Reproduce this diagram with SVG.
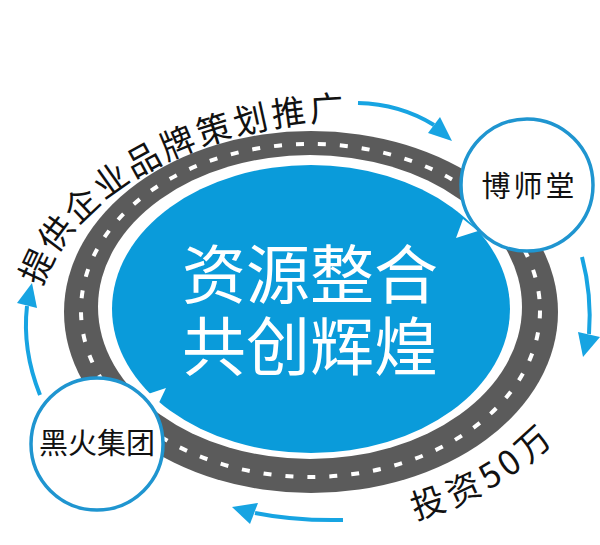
<svg xmlns="http://www.w3.org/2000/svg" width="600" height="545" viewBox="0 0 600 545">
<style>
.cjk{font-family:"Noto Sans CJK SC","Noto Sans",sans-serif;}
.arr{fill:none;stroke:#17a4e2;stroke-width:4;stroke-linecap:butt;}
.head{fill:#17a4e2;}
.node{fill:#fff;stroke:#1f95d0;stroke-width:3.5;}
.lbl{fill:#111;font-size:29px;text-anchor:middle;dominant-baseline:central;}
.arc{fill:#111;font-size:34px;dominant-baseline:central;}
</style>
<defs>
<path id="topArc" d="M20,330 A340,225 0 0 1 360,105"/>
<path id="botArc" d="M311,518.5 A283,206.5 0 0 0 594,312"/>
</defs>
<rect width="600" height="545" fill="#fff"/>
<g id="road">
<ellipse cx="311" cy="312" rx="247" ry="181" fill="#5b5b5b"/>
<ellipse cx="310.5" cy="310.5" rx="229.5" ry="166.5" fill="none" stroke="#fff" stroke-width="4" stroke-dasharray="8 14"/>
<ellipse cx="310" cy="307" rx="212" ry="152" fill="#fff"/>
</g>
<g id="center">
<ellipse cx="311" cy="309" rx="199" ry="144" fill="#0a9bda"/>
<text class="cjk" x="310" y="270" fill="#fff" font-size="64" text-anchor="middle" dominant-baseline="central">资源整合</text>
<text class="cjk" x="310" y="342" fill="#fff" font-size="64" text-anchor="middle" dominant-baseline="central">共创辉煌</text>
</g>
<g id="connectors">
<polygon points="456,238 463,219 478,231" fill="#fff"/>
<polygon points="145,395 166,388 156,409" fill="#fff"/>
<path class="arr" d="M358,103 Q400,104 434,125"/>
<polygon class="head" points="452,141 440,117 428,133"/>
<path class="arr" d="M582,257 Q592,295 589,334"/>
<polygon class="head" points="583,357 578,332 600,337"/>
<path class="arr" d="M343,520 Q295,521 255,513"/>
<polygon class="head" points="232,507 258,503 250,524"/>
<path class="arr" d="M40,395 Q22,350 27,306"/>
<polygon class="head" points="32,283 17,303 37,308"/>
</g>
<g id="node-boshitang">
<circle class="node" cx="527" cy="185" r="66"/>
<text class="cjk lbl" x="529.5" y="184" letter-spacing="3">博师堂</text>
</g>
<g id="node-heihuo">
<circle class="node" cx="97" cy="444" r="66"/>
<text class="cjk lbl" x="97" y="441">黑火集团</text>
</g>
<g id="labels">
<text class="cjk arc" letter-spacing="4.6"><textPath href="#topArc" startOffset="50">提供企业品牌策划推广</textPath></text>
<text class="cjk arc" letter-spacing="3.5"><textPath href="#botArc" startOffset="101">投资50万</textPath></text>
</g>
</svg>
